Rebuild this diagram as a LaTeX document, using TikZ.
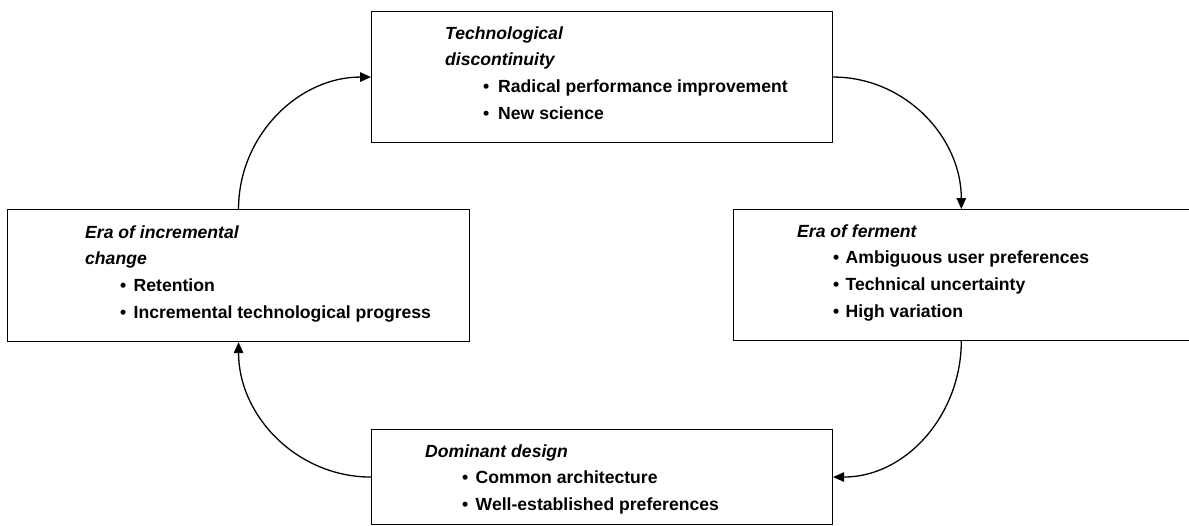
\documentclass[tikz,border=0pt]{standalone}
\usepackage{fontspec}
\setmainfont{Liberation Sans}
\usetikzlibrary{arrows.meta}
\begin{document}
\begin{tikzpicture}[x=1pt,y=1pt,
  box/.style={draw, line width=1.1pt, rectangle, inner sep=0pt, anchor=north west},
  hd/.style={anchor=base west, inner sep=0pt, font=\fontsize{17.6}{20}\selectfont\bfseries\itshape},
  bl/.style={anchor=base west, inner sep=0pt, font=\fontsize{17.6}{20}\selectfont\bfseries},
  cyc/.style={line width=1.3pt, -{Triangle[length=11pt,width=9.5pt]}}
]
\useasboundingbox (0,0) rectangle (1189,-525);
% boxes
\node[box, minimum width=461pt, minimum height=131pt] (tech) at (371,-11) {};
\node[box, minimum width=462pt, minimum height=132pt] (incr) at (7,-209) {};
\node[box, minimum width=455.5pt, minimum height=131pt] (ferm) at (733,-209) {};
\node[box, minimum width=461pt, minimum height=95pt] (dom) at (371,-429) {};
% top box text
\node[hd] (t1) at (445,-39) {Technological};
\node[hd] (t2) at (445,-65.7) {discontinuity};
\node[bl] (t3) at (483,-92.4) {\makebox[15pt][l]{•}Radical performance improvement};
\node[bl] (t4) at (483,-119.1) {\makebox[15pt][l]{•}New science};
% left box text
\node[hd] (l1) at (85,-238) {Era of incremental};
\node[hd] (l2) at (85,-264.7) {change};
\node[bl] (l3) at (120,-291.4) {\makebox[13.5pt][l]{•}Retention};
\node[bl] (l4) at (120,-318.1) {\makebox[13.5pt][l]{•}Incremental technological progress};
% right box text
\node[hd] (r1) at (797,-237) {Era of ferment};
\node[bl] (r2) at (833,-263.7) {\makebox[12.5pt][l]{•}Ambiguous user preferences};
\node[bl] (r3) at (833,-290.4) {\makebox[12.5pt][l]{•}Technical uncertainty};
\node[bl] (r4) at (833,-317.1) {\makebox[12.5pt][l]{•}High variation};
% bottom box text
\node[hd] (d1) at (425,-457) {Dominant design};
\node[bl] (d2) at (462,-483.7) {\makebox[13.5pt][l]{•}Common architecture};
\node[bl] (d3) at (462,-510.4) {\makebox[13.5pt][l]{•}Well-established preferences};
% connectors
\draw[cyc] (tech.east) to[out=0,in=90] (ferm.north);
\draw[cyc] (ferm.south) to[out=-90,in=0] (dom.east);
\draw[cyc] (dom.west) to[out=180,in=-90] (incr.south);
\draw[cyc] (incr.north) to[out=90,in=180] (tech.west);
\end{tikzpicture}
\end{document}
